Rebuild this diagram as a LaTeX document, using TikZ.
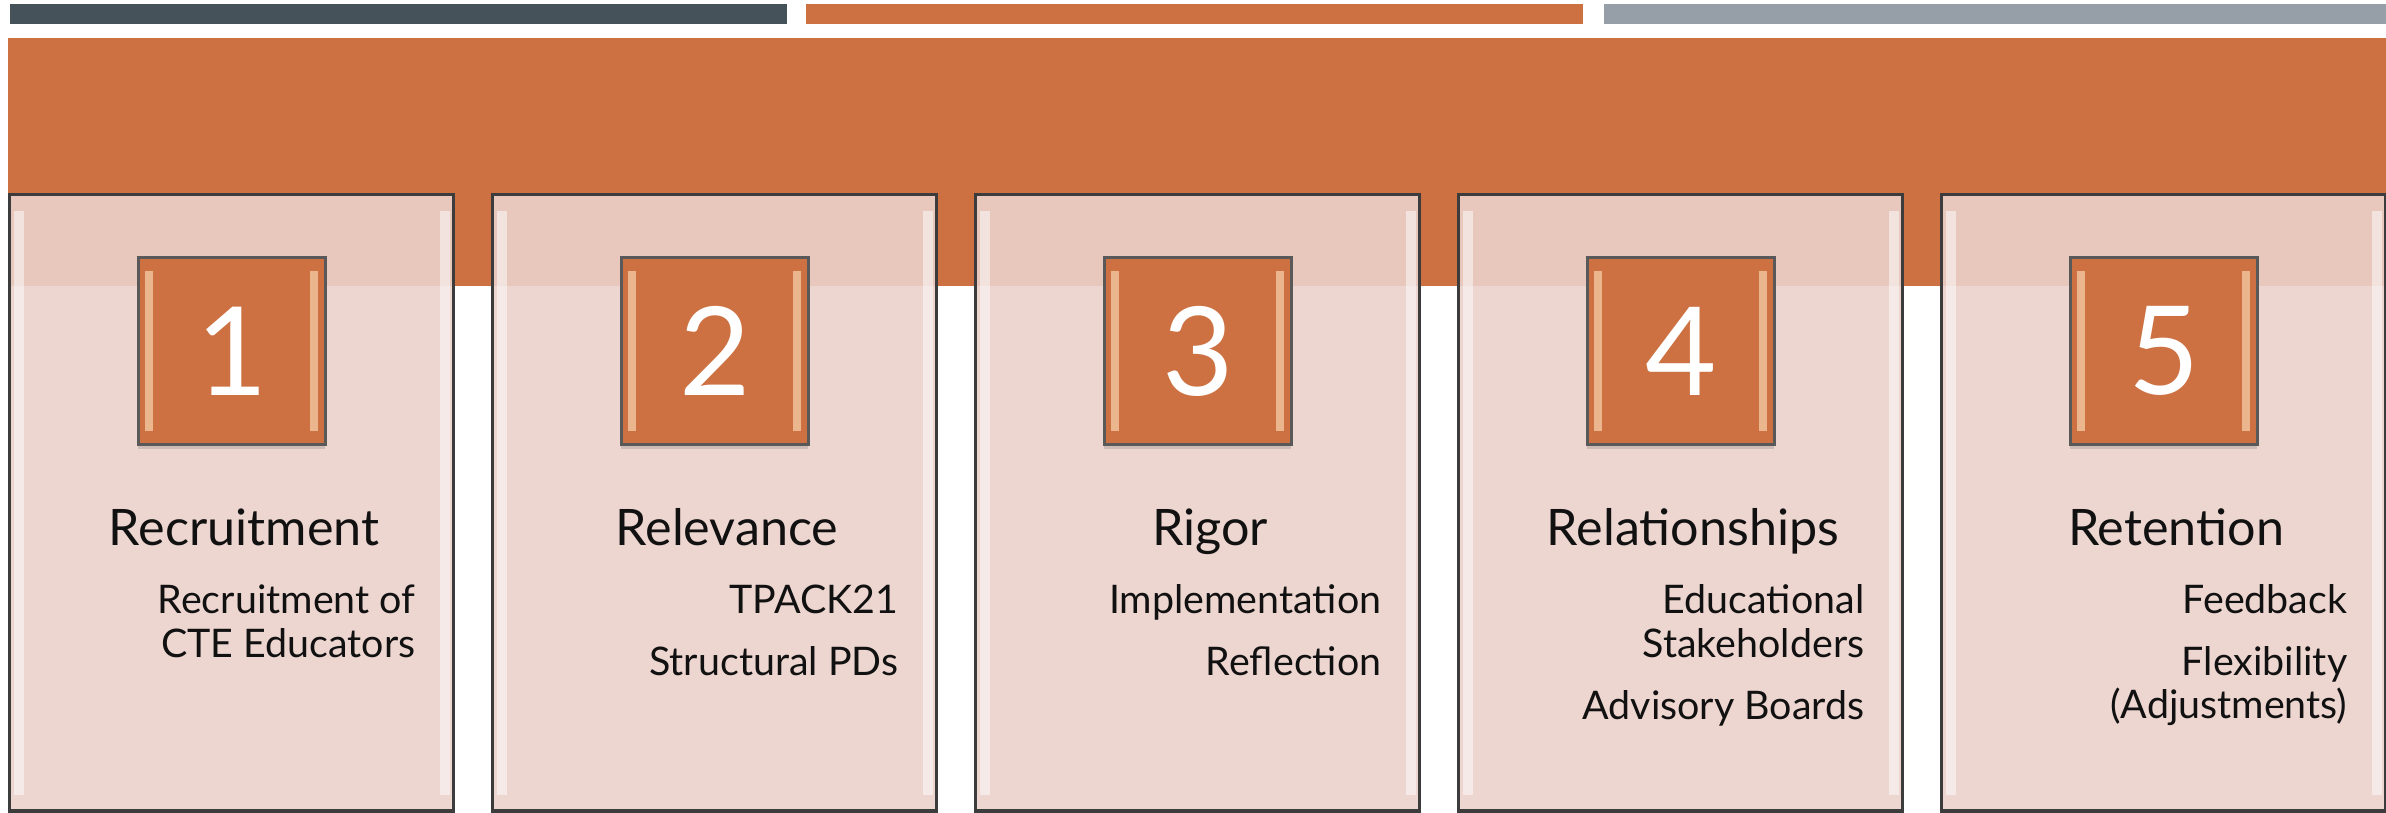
\documentclass[tikz,border=0pt]{standalone}
\usepackage{fontspec}
\setmainfont{Lato}
\usetikzlibrary{positioning,shadows}
\definecolor{slate}{HTML}{465259}
\definecolor{rust}{HTML}{CD7142}
\definecolor{steel}{HTML}{969EA8}
\definecolor{blush}{HTML}{EBD1CB}
\definecolor{edge}{HTML}{3C3C3C}
\definecolor{glint}{HTML}{F8D2AE}
\definecolor{ink}{HTML}{111111}
\tikzset{
  card/.style={draw=edge, line width=0.9pt, fill=blush, fill opacity=0.9,
    minimum width=4.44cm, minimum height=6.16cm, inner sep=0pt, anchor=north west,
    path picture={
      \fill[white, fill opacity=0.5] ([xshift=0.04cm,yshift=-0.16cm]path picture bounding box.north west)
        rectangle ([xshift=0.14cm,yshift=0.16cm]path picture bounding box.south west);
      \fill[white, fill opacity=0.5] ([xshift=-0.04cm,yshift=-0.16cm]path picture bounding box.north east)
        rectangle ([xshift=-0.14cm,yshift=0.16cm]path picture bounding box.south east);
    }},
  numbox/.style={draw=edge!85, line width=0.8pt, fill=rust, minimum size=1.87cm, inner sep=0pt,
    text=white, font=\fontsize{35}{40}\selectfont,
    drop shadow={shadow xshift=0pt, shadow yshift=-1.2pt, opacity=0.3},
    path picture={
      \fill[glint, fill opacity=0.7] ([xshift=0.07cm,yshift=-0.14cm]path picture bounding box.north west)
        rectangle ([xshift=0.15cm,yshift=0.14cm]path picture bounding box.south west);
      \fill[glint, fill opacity=0.7] ([xshift=-0.07cm,yshift=-0.14cm]path picture bounding box.north east)
        rectangle ([xshift=-0.15cm,yshift=0.14cm]path picture bounding box.south east);
    }},
  head/.style={text=ink, font=\fontsize{14.3}{17}\selectfont, anchor=base, inner sep=0pt},
  item/.style={text=ink, font=\fontsize{11.2}{13}\selectfont, anchor=base east, inner sep=0pt}
}

\begin{document}
\begin{tikzpicture}[x=0.01cm, y=-0.01cm]
  \useasboundingbox (0,0) rectangle (2386,812);

  \fill[slate] (10,4) rectangle (787,24);
  \fill[rust] (806,4) rectangle (1583,24);
  \fill[steel] (1604,4) rectangle (2386,24);
  \fill[rust] (8,38) rectangle (2386,286);

  \node[card] (card1) at (8,193) {};
  \node[card] (card2) at (491,193) {};
  \node[card] (card3) at (974,193) {};
  \node[card] (card4) at (1457,193) {};
  \node[card] (card5) at (1940,193) {};

  \node[numbox, below=0.63cm of card1.north] (num1) {1};
  \node[numbox, below=0.63cm of card2.north] (num2) {2};
  \node[numbox, below=0.63cm of card3.north] (num3) {3};
  \node[numbox, below=0.63cm of card4.north] (num4) {4};
  \node[numbox, below=0.63cm of card5.north] (num5) {5};

  \node[head] (head1) at (244,545) {Recruitment};
  \node[head] (head2) at (727,545) {Relevance};
  \node[head] (head3) at (1210,545) {Rigor};
  \node[head] (head4) at (1693,545) {Relationships};
  \node[head] (head5) at (2176,545) {Retention};

  \node[item] (sub1a) at (416,613) {Recruitment of};
  \node[item] (sub1b) at (416,657) {CTE Educators};

  \node[item] (sub2a) at (899,613) {TPACK21};
  \node[item] (sub2b) at (899,675) {Structural PDs};

  \node[item] (sub3a) at (1382,613) {Implementation};
  \node[item] (sub3b) at (1382,675) {Reflection};

  \node[item] (sub4a) at (1865,613) {Educational};
  \node[item] (sub4b) at (1865,657) {Stakeholders};
  \node[item] (sub4c) at (1865,719) {Advisory Boards};

  \node[item] (sub5a) at (2348,613) {Feedback};
  \node[item] (sub5b) at (2348,675) {Flexibility};
  \node[item] (sub5c) at (2348,718) {(Adjustments)};
\end{tikzpicture}
\end{document}
